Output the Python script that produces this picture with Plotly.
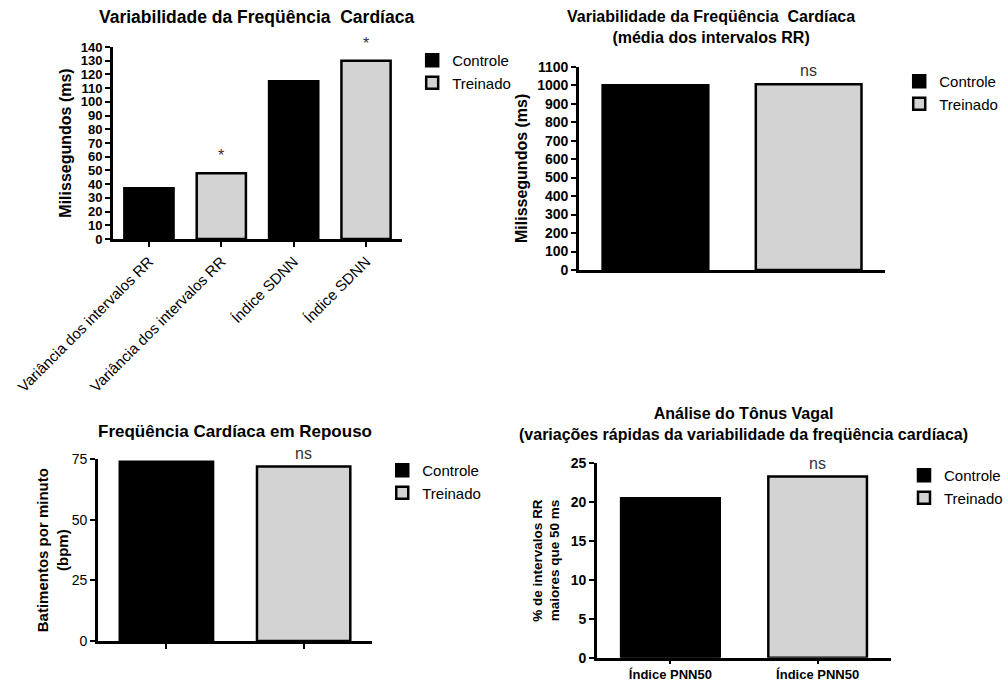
import plotly.graph_objects as go

FONT = "Liberation Sans, Arial, sans-serif"
BLACK = "#000000"
GREY = "#d3d3d3"
series = ["Controle", "Treinado"]

# Panel 1: Variabilidade da Freqüência Cardíaca
p1_labels = ["Variância dos intervalos RR", "Variância dos intervalos RR", "Índice SDNN", "Índice SDNN"]
p1_controle_x = [0, 2]
p1_controle = [37, 115]
p1_treinado_x = [1, 3]
p1_treinado = [48, 130]
p1_sig = ["*", "*"]  # above Treinado bars

# Panel 2: média dos intervalos RR
p2_controle = [1000]
p2_treinado = [1005]
p2_sig = "ns"

# Panel 3: Freqüência Cardíaca em Repouso
p3_controle = [74]
p3_treinado = [72]
p3_sig = "ns"

# Panel 4: Análise do Tônus Vagal
p4_labels = ["Índice PNN50", "Índice PNN50"]
p4_controle = [20.5]
p4_treinado = [23.3]
p4_sig = "ns"

W, H = 1008, 682
def px_x(a, b):
    return [a / W, b / W]
def px_y(top, bottom):
    return [1 - bottom / H, 1 - top / H]

fig = go.Figure()

def add_pair(xa, ya, xc, yc, xt, yt, legend, width):
    fig.add_trace(go.Bar(x=xc, y=yc, name=series[0], xaxis=xa, yaxis=ya, width=width,
                         marker=dict(color=BLACK, line=dict(color=BLACK, width=2.5)),
                         legend=legend, showlegend=True))
    fig.add_trace(go.Bar(x=xt, y=yt, name=series[1], xaxis=xa, yaxis=ya, width=width,
                         marker=dict(color=GREY, line=dict(color=BLACK, width=2.5)),
                         legend=legend, showlegend=True))

add_pair("x", "y", p1_controle_x, p1_controle, p1_treinado_x, p1_treinado, "legend", 0.68)
add_pair("x2", "y2", [0], p2_controle, [1], p2_treinado, "legend2", 0.69)
add_pair("x3", "y3", [0], p3_controle, [1], p3_treinado, "legend3", 0.68)
add_pair("x4", "y4", [0], p4_controle, [1], p4_treinado, "legend4", 0.67)

axis_common = dict(showline=True, linecolor=BLACK, showgrid=False, zeroline=False, automargin=False,
                   ticks="outside", tickcolor=BLACK, ticklen=5, tickwidth=2)

def bold(size):
    return dict(family=FONT, size=size, color=BLACK, weight="bold")
def reg(size):
    return dict(family=FONT, size=size, color=BLACK)

fig.update_layout(
    template="none",
    width=W, height=H, margin=dict(l=0, r=0, t=0, b=0, pad=0),
    paper_bgcolor="white", plot_bgcolor="white", barmode="overlay",
    font=dict(family=FONT, color=BLACK),
    # Panel 1
    xaxis=dict(domain=px_x(113, 403), range=[-0.5, 3.5], tickvals=[0, 1, 2, 3], ticktext=p1_labels,
               tickangle=-45, tickfont=reg(15), linewidth=3, anchor="y", **axis_common),
    yaxis=dict(domain=px_y(47, 239), range=[0, 140], dtick=10, tickfont=bold(13), linewidth=2.5,
               title=dict(text="Milissegundos (ms)", font=bold(16), standoff=6),
               anchor="x", **axis_common),
    # Panel 2
    xaxis2=dict(domain=px_x(580, 887), range=[-0.5, 1.5], showticklabels=False, linewidth=3,
                anchor="y2", **{**axis_common, "ticks": ""}),
    yaxis2=dict(domain=px_y(66.7, 270), range=[0, 1100], dtick=100, tickfont=bold(14), linewidth=2.5,
                title=dict(text="Milissegundos (ms)", font=bold(16), standoff=6),
                anchor="x2", **axis_common),
    # Panel 3
    xaxis3=dict(domain=px_x(98, 373), range=[-0.5, 1.5], tickvals=[0, 1], showticklabels=False,
                linewidth=3, anchor="y3", **axis_common),
    yaxis3=dict(domain=px_y(459.3, 641), range=[0, 75], dtick=25, tickfont=reg(14), linewidth=2.5,
                title=dict(text="Batimentos por minuto<br>(bpm)", font=bold(15), standoff=0),
                anchor="x3", **axis_common),
    # Panel 4
    xaxis4=dict(domain=px_x(598, 893), range=[-0.5, 1.5], tickvals=[0, 1], ticktext=p4_labels,
                tickfont=bold(13), linewidth=3, anchor="y4", **{**axis_common, "ticklen": 3}),
    yaxis4=dict(domain=px_y(463.3, 657.7), range=[0, 25], dtick=5, tickfont=bold(14), linewidth=2.5,
                title=dict(text="% de intervalos RR<br>maiores que 50 ms", font=bold(13.5), standoff=8),
                anchor="x4", **axis_common),
)

def leg(xpx, ypx):
    return dict(x=xpx / W, y=1 - ypx / H, xanchor="left", yanchor="top", font=reg(15),
                bgcolor="rgba(0,0,0,0)", borderwidth=0, tracegroupgap=0, itemwidth=30)

fig.update_layout(legend=leg(413, 44), legend2=leg(901, 65), legend3=leg(383, 454), legend4=leg(906, 459))

# titles
titles = [
    ("Variabilidade da Freqüência  Cardíaca", 257, 17, 17.5),
    ("Variabilidade da Freqüência  Cardíaca<br>(média dos intervalos RR)", 712, 27, 16),
    ("Freqüência Cardíaca em Repouso", 235, 431, 17),
    ("Análise do Tônus Vagal<br>(variações rápidas da variabilidade da freqüência cardíaca)", 745, 424, 16),
]
for text, cx, cy, fs in titles:
    fig.add_annotation(text=text, x=cx / W, y=1 - cy / H, xref="paper", yref="paper",
                       showarrow=False, xanchor="center", yanchor="middle", font=bold(fs))

# significance marks
sig_font = dict(family=FONT, size=16, color="#333333")
for xv, yv, s in zip(p1_treinado_x, p1_treinado, p1_sig):
    fig.add_annotation(text=s, x=xv, y=yv, xref="x", yref="y", showarrow=False,
                       yanchor="bottom", yshift=7, font=sig_font)
for xr, yr, yv, s in [("x2", "y2", p2_treinado[0], p2_sig), ("x3", "y3", p3_treinado[0], p3_sig),
                      ("x4", "y4", p4_treinado[0], p4_sig)]:
    fig.add_annotation(text=s, x=1, y=yv, xref=xr, yref=yr, showarrow=False,
                       yanchor="bottom", yshift=3, font=sig_font)

fig.write_html("out.html", config={"displayModeBar": False})

# remove the default page margin so the figure sits at the window's top-left corner
with open("out.html", encoding="utf-8") as f:
    html = f.read()
html = html.replace("<body>", '<body style="margin:0;overflow:hidden;">', 1)
with open("out.html", "w", encoding="utf-8") as f:
    f.write(html)
